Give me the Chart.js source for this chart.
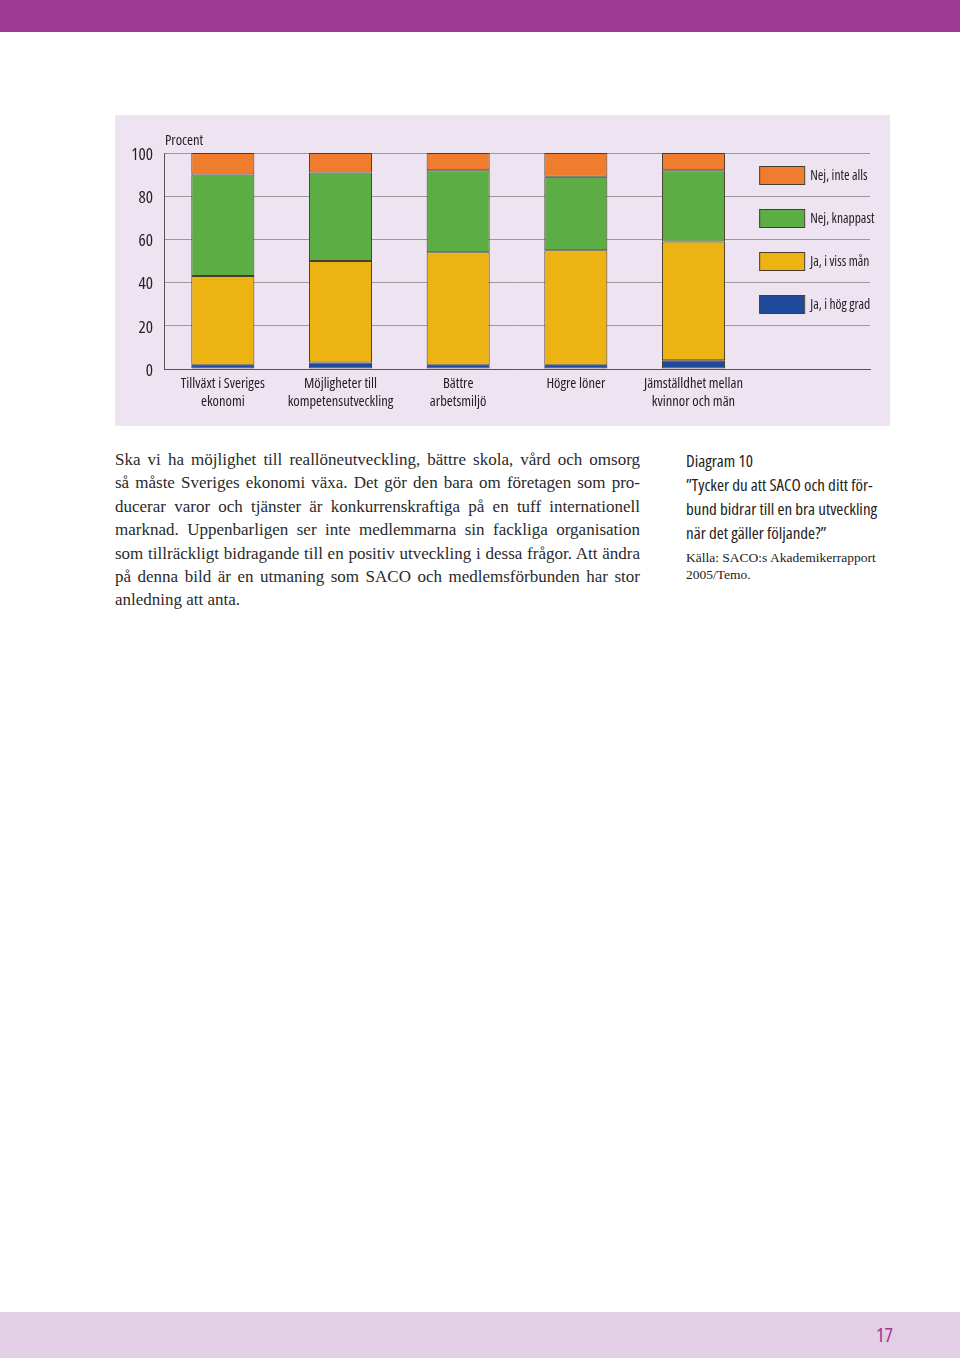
<!DOCTYPE html>
<html lang="sv">
<head>
<meta charset="utf-8">
<script src="https://cdn.jsdelivr.net/npm/chart.js@4.4.1/dist/chart.umd.min.js"></script>
<style>
  html, body { margin: 0; padding: 0; background: #fff; }
  body { width: 960px; height: 1358px; position: relative; overflow: hidden; }
  .topbar { position: absolute; left: 0; top: 0; width: 960px; height: 32px; background: #9e3a94; }
  .panel { position: absolute; left: 115px; top: 115px; width: 775px; height: 311px; background: #eee4f1; }
  .panel canvas { display: block; }
  .body-text { position: absolute; left: 115px; top: 448px; width: 525px;
    font-family: "Liberation Serif", "DejaVu Serif", serif; font-size: 17px; line-height: 23.4px; color: #2a2a2a; }
  .body-text div { text-align: justify; text-align-last: justify; white-space: nowrap; }
  .body-text div.last { text-align-last: left; }
  .caption { position: absolute; left: 686px; top: 449px; width: 230px; white-space: nowrap;
    font-family: "Open Sans", sans-serif; font-stretch: condensed; font-size: 17px; line-height: 24px; color: #222; }
  .source { position: absolute; left: 686px; top: 549px; width: 230px; white-space: nowrap;
    font-family: "Liberation Serif", "DejaVu Serif", serif; font-size: 13.5px; line-height: 17px; color: #222; }
  .bottombar { position: absolute; left: 0; top: 1312px; width: 960px; height: 46px; background: #e2cfe5; }
  .pagenum { position: absolute; left: 876px; top: 1321px; font-family: "Open Sans", sans-serif; font-stretch: condensed;
    font-size: 20px; color: #9e3a94; }
</style>
</head>
<body>
<div class="topbar"></div>
<div class="panel"><canvas id="chart" width="775" height="311"></canvas></div>

<div class="body-text">
  <div>Ska vi ha möjlighet till reallöneutveckling, bättre skola, vård och omsorg</div>
  <div>så måste Sveriges ekonomi växa. Det gör den bara om företagen som pro-</div>
  <div>ducerar varor och tjänster är konkurrenskraftiga på en tuff internationell</div>
  <div>marknad. Uppenbarligen ser inte medlemmarna sin fackliga organisation</div>
  <div>som tillräckligt bidragande till en positiv utveckling i dessa frågor. Att ändra</div>
  <div>på denna bild är en utmaning som SACO och medlemsförbunden har stor</div>
  <div class="last">anledning att anta.</div>
</div>

<div class="caption">Diagram 10<br>”Tycker du att SACO och ditt för-<br>bund bidrar till en bra utveckling<br>när det gäller följande?”</div>
<div class="source">Källa: SACO:s Akademikerrapport<br>2005/Temo.</div>

<div class="bottombar"></div>
<div class="pagenum">17</div>

<script>
const categories = [
  ['Tillväxt i Sveriges', 'ekonomi'],
  ['Möjligheter till', 'kompetensutveckling'],
  ['Bättre', 'arbetsmiljö'],
  'Högre löner',
  ['Jämställdhet mellan', 'kvinnor och män'],
  ''   // empty slot where the legend sits
];
const jaHogGrad   = [2, 3, 2, 2, 4];
const jaVissMan   = [41, 47, 52, 53, 55];
const nejKnappast = [47, 41, 38, 34, 33];
const nejInteAlls = [10, 9, 8, 11, 8];
const yTicks = [0, 20, 40, 60, 80, 100];

const cond = '"Open Sans", sans-serif';
const edge = '#4a3b2c';

// legend drawn into the empty 6th category, top item first
const legendPlugin = {
  id: 'sideLegend',
  afterDraw(chart) {
    const ctx = chart.ctx;
    const xs = chart.scales.x, ys = chart.scales.y;
    const cx = xs.getPixelForValue(5);
    const levels = [90, 70, 50, 30];
    const order = [3, 2, 1, 0];
    ctx.save();
    ctx.font = 'condensed 13.5px ' + cond;
    ctx.textBaseline = 'middle';
    order.forEach((di, i) => {
      const ds = chart.data.datasets[di];
      const y = Math.round(ys.getPixelForValue(levels[i]));
      ctx.fillStyle = ds.backgroundColor;
      ctx.fillRect(cx - 52, y - 9, 45, 18);
      ctx.strokeStyle = edge;
      ctx.lineWidth = 1;
      ctx.strokeRect(cx - 52 + 0.5, y - 9 + 0.5, 45, 18);
      ctx.fillStyle = '#222';
      ctx.fillText(ds.label, cx - 1, y + 1);
    });
    // "Procent" above the axis
    ctx.font = 'condensed 14.5px ' + cond;
    ctx.textBaseline = 'alphabetic';
    ctx.fillText('Procent', chart.chartArea.left + 1, 30);
    ctx.restore();
  }
};

const stack = (label, data, color) => ({
  label, data, backgroundColor: color,
  borderColor: edge, borderWidth: 1, borderSkipped: false,
  barPercentage: 0.536, categoryPercentage: 1
});

new Chart(document.getElementById('chart'), {
  type: 'bar',
  data: {
    labels: categories,
    datasets: [
      stack('Ja, i hög grad', jaHogGrad, '#1f4a9c'),
      stack('Ja, i viss mån', jaVissMan, '#edb313'),
      stack('Nej, knappast', nejKnappast, '#5bad44'),
      stack('Nej, inte alls', nejInteAlls, '#f07c2e')
    ]
  },
  options: {
    responsive: false,
    animation: false,
    layout: { padding: { left: 0, right: 20, top: 38, bottom: 0 } },
    plugins: {
      legend: { display: false },
      tooltip: { enabled: false }
    },
    scales: {
      x: {
        stacked: true,
        grid: { display: false, drawTicks: false },
        border: { color: '#555', width: 1 },
        ticks: { color: '#222', font: { family: cond, size: 14.5, weight: 'condensed', lineHeight: 1.3 }, padding: 5, maxRotation: 0, autoSkip: false },
        afterFit: s => { s.height = 57; }
      },
      y: {
        stacked: true,
        min: 0, max: 100,
        afterBuildTicks: s => { s.ticks = yTicks.map(v => ({ value: v })); },
        grid: { color: '#9a9a9a', drawTicks: false },
        border: { color: '#555', width: 1 },
        ticks: { color: '#222', font: { family: cond, size: 17, weight: 'condensed' }, padding: 11, labelOffset: 2 },
        afterFit: s => { s.width = 49; }
      }
    }
  },
  plugins: [legendPlugin]
});
</script>
</body>
</html>
